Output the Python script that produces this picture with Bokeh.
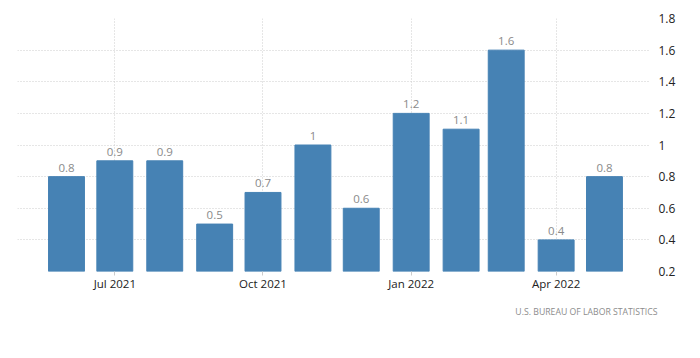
from datetime import datetime
from bokeh.plotting import figure
from bokeh.models import (ColumnDataSource, Range1d, FixedTicker, DatetimeTickFormatter,
                          NumeralTickFormatter, Title)
from bokeh.core.properties import value
from bokeh.embed import file_html
from bokeh.resources import INLINE

# ---- data ----
months = ["2021-06", "2021-07", "2021-08", "2021-09", "2021-10", "2021-11",
          "2021-12", "2022-01", "2022-02", "2022-03", "2022-04", "2022-05"]
values = [0.8, 0.9, 0.9, 0.5, 0.7, 1.0, 0.6, 1.2, 1.1, 1.6, 0.4, 0.8]
x_tick_months = ["2021-07", "2021-10", "2022-01", "2022-04"]
y_ticks = [0.2, 0.4, 0.6, 0.8, 1.0, 1.2, 1.4, 1.6, 1.8]
source_text = "U.S.  BUREAU  OF  LABOR  STATISTICS"

def to_dt(s):
    return datetime.strptime(s + "-01", "%Y-%m-%d")

dates = [to_dt(m) for m in months]
labels = [f"{v:g}" for v in values]
src = ColumnDataSource(dict(x=dates, top=values, label=labels))

DAY = 24 * 3600 * 1000
FONT = "Open Sans"

p = figure(x_axis_type="datetime", y_axis_location="right",
           frame_width=633, frame_height=253,
           min_border_left=17, min_border_top=18, min_border_right=30, min_border_bottom=30,
           x_range=Range1d(datetime(2021, 5, 1, 14), datetime(2022, 5, 29, 14)),
           y_range=Range1d(y_ticks[0], y_ticks[-1]),
           output_backend="svg", toolbar_location=None,
           background_fill_color="white", border_fill_color="white")
p.outline_line_color = None

p.vbar(x="x", top="top", bottom=0, width=22.3 * DAY, source=src,
       fill_color="#4682b4", line_color="#4682b4")

p.text(x="x", y="top", text="label", source=src, y_offset=-5,
       text_align="center", text_baseline="bottom",
       text_font=value(FONT), text_font_size="11.5px", text_color="#8a8a8a")

# x axis
xa = p.xaxis[0]
xa.ticker = FixedTicker(ticks=[to_dt(m).timestamp() * 1000 for m in x_tick_months])
xa.formatter = DatetimeTickFormatter(months="%b %Y", days="%b %Y", hours="%b %Y")
xa.axis_line_color = None
xa.major_tick_in = 0
xa.major_tick_out = 4
xa.major_tick_line_color = "#cccccc"
xa.minor_tick_line_color = None
xa.major_label_standoff = 0
xa.major_label_text_font = FONT
xa.major_label_text_font_size = "11.5px"
xa.major_label_text_color = "#222222"

# y axis
ya = p.yaxis[0]
ya.ticker = FixedTicker(ticks=y_ticks)
ya.formatter = NumeralTickFormatter(format="0.[0]")
ya.axis_line_color = None
ya.major_tick_line_color = None
ya.minor_tick_line_color = None
ya.major_label_standoff = 2
ya.major_label_text_font = FONT
ya.major_label_text_font_size = "12px"
ya.major_label_text_color = "#222222"

# grids
p.xgrid.grid_line_color = "#cccccc"
p.xgrid.grid_line_dash = "1 2"
p.ygrid.grid_line_color = "#cccccc"
p.ygrid.grid_line_dash = "1 2"

p.add_layout(Title(text=source_text, align="right", text_font=FONT,
                   text_font_size="8.7px", text_font_style="normal",
                   text_color="#8c8c8c", standoff=20, offset=-16), "below")

open("out.html", "w").write(file_html(p, INLINE))
